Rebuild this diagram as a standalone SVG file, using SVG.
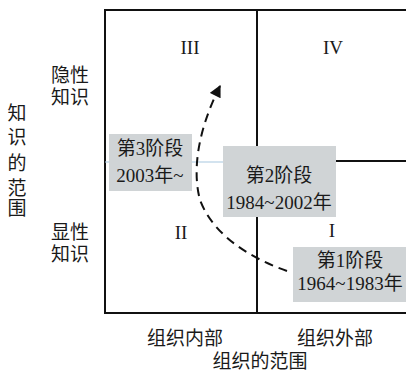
<svg xmlns="http://www.w3.org/2000/svg" width="406" height="373" viewBox="0 0 406 373">
<defs>
<style>
text{font-family:"Liberation Serif","Noto Sans CJK SC",serif;font-size:19px;fill:#1a1a1a;text-anchor:middle}
.frame{stroke:#111;stroke-width:2;fill:none}
.box{fill:#d0d4d6}
</style>
<marker id="ah" viewBox="0 0 10 10" refX="9" refY="5" markerWidth="7" markerHeight="6" orient="auto">
<path d="M0,0 L10,5 L0,10 z" fill="#111"/>
</marker>
</defs>
<rect width="406" height="373" fill="#fff"/>
<g id="axes">
<path class="frame" d="M406,10 H105 V313 H406"/>
<path class="frame" d="M257,10 V161 H406"/>
<path class="frame" d="M257,217 V313"/>
<line x1="105" y1="162" x2="257" y2="162" stroke="#a8c8e0" stroke-width="1.2"/>
</g>
<g id="quadrant-labels">
<text x="190" y="54">III</text>
<text x="333" y="54">IV</text>
<text x="181" y="239">II</text>
<text x="332" y="237">I</text>
</g>
<g id="y-labels">
<text x="70" y="82">隐性</text>
<text x="70" y="104">知识</text>
<text x="70" y="239">显性</text>
<text x="70" y="261">知识</text>
<text x="17" y="120">知</text>
<text x="17" y="144">识</text>
<text x="17" y="170">的</text>
<text x="17" y="195">范</text>
<text x="17" y="215">围</text>
</g>
<g id="x-labels">
<text x="185" y="345">组织内部</text>
<text x="335" y="345">组织外部</text>
<text x="260" y="368">组织的范围</text>
</g>
<g id="connectors">
<path d="M287,271 C250,258 213,235 200,200 C192,170 198,130 220,86" fill="none" stroke="#111" stroke-width="2" stroke-dasharray="9,6" marker-end="url(#ah)"/>
</g>
<g id="stage3">
<rect class="box" x="109" y="134" width="83" height="57"/>
<text x="150" y="155">第3阶段</text>
<text x="150" y="182">2003年~</text>
</g>
<g id="stage2">
<rect class="box" x="223" y="146" width="113" height="71"/>
<text x="279" y="182">第2阶段</text>
<text x="279" y="209">1984~2002年</text>
</g>
<g id="stage1">
<rect class="box" x="293" y="247" width="113" height="55"/>
<text x="350" y="267">第1阶段</text>
<text x="350" y="290">1964~1983年</text>
</g>
</svg>
